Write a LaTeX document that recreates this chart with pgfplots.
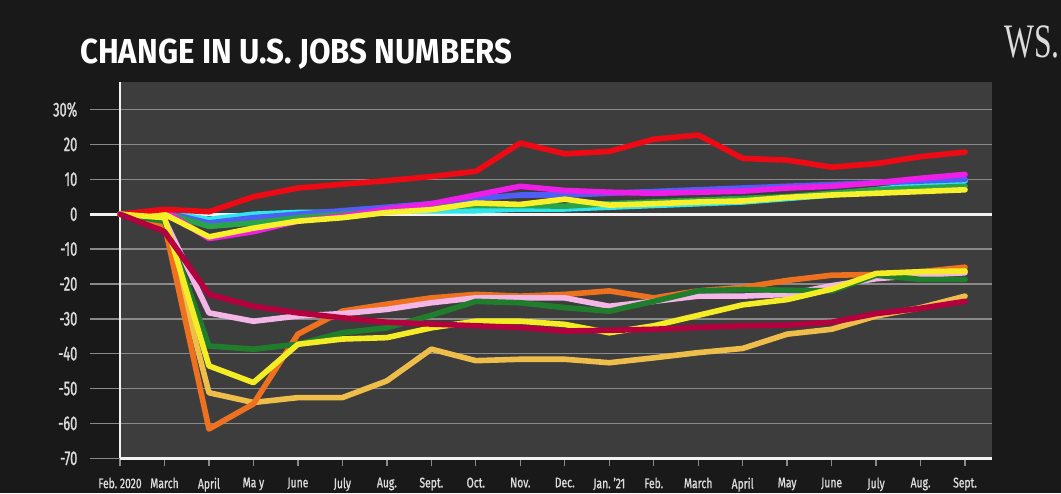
\documentclass[border=0pt]{standalone}
\usepackage{fontspec}
\setmainfont{Fira Sans}
\newfontfamily\ytickfont{Fira Sans}[FakeStretch=0.64, FakeBold=1.2]
\newfontfamily\xtickfont{Fira Sans}[FakeStretch=0.74, FakeBold=1]
\newfontfamily\titlefont{Fira Sans}[FakeStretch=0.9]
\newfontfamily\logofont{Liberation Serif}[FakeStretch=0.66]
\usepackage{pgfplots}
\pgfplotsset{compat=1.18}
\usepackage{pgfplotstable}

\definecolor{bgdark}{HTML}{191919}
\definecolor{panel}{HTML}{3D3D3D}
\definecolor{gridgray}{HTML}{8A8A8A}
\definecolor{axwhite}{HTML}{F2F2F2}
\definecolor{labelc}{HTML}{DCDCDC}
\definecolor{cRed}{HTML}{EE0A14}
\definecolor{cMagenta}{HTML}{EE1EE8}
\definecolor{cBlue}{HTML}{4F5FF5}
\definecolor{cCyan}{HTML}{2EE6EE}
\definecolor{cGreenUp}{HTML}{2AA34A}
\definecolor{cYellowUp}{HTML}{F7F02A}
\definecolor{cCrimson}{HTML}{B5003F}
\definecolor{cPink}{HTML}{F3B6E6}
\definecolor{cOrange}{HTML}{EE7120}
\definecolor{cDGreen}{HTML}{1F7D2C}
\definecolor{cYellowLo}{HTML}{F4EC24}
\definecolor{cGold}{HTML}{EEBD4A}

% month index 0 = Feb. 2020 ... 19 = Sept. 2021, values in % change
\pgfplotstableread{
m  red   magenta blue cyan greenup yellowup crimson pink  orange dgreen yellowlo gold
0  0     0       0    0    0       0        0       0     0      0      0        0
1  1.4   1.0     0.5  0.5  0.3     0        -5      -1.5  -3     -2     -1       -2
2  0.7   -7.0    -2.5 -1.5 -3.5    -6.5     -23     -28.3 -61.6  -37.8  -43.5    -51.2
3  5.0   -5.0    -1.0 0    -2.5    -4.0     -26.4   -30.7 -54.4  -38.7  -48.3    -54.0
4  7.5   -2.0    0    0.5  -1.0    -2.0     -28.3   -29.2 -34.4  -37.3  -37.3    -52.6
5  8.6   -0.5    1.0  0.5  0       -1.0     -29.7   -28.5 -27.8  -34.0  -35.8    -52.6
6  9.6   1.5     2.0  1.0  1.0     0.5      -31.0   -27.3 -25.8  -32.6  -35.4    -47.8
7  10.8  3.0     3.0  1.0  2.0     1.3      -31.5   -25.4 -24.0  -29.0  -32.6    -38.7
8  12.3  5.5     4.5  1.0  2.5     3.2      -32.0   -24.0 -23.0  -25.0  -30.7    -42.0
9  20.4  8.0     5.5  1.5  2.5     2.8      -32.5   -24.0 -23.5  -25.4  -30.7    -41.6
10 17.3  6.8     5.5  1.5  2.3     4.3      -33.5   -24.0 -23.0  -26.8  -31.6    -41.6
11 18.0  6.3     6.0  2.0  3.0     2.6      -33.3   -26.4 -22.0  -27.8  -34.0    -42.6
12 21.5  6.0     6.5  2.5  3.5     3.0      -33.0   -25.0 -24.0  -25.0  -32.0    -41.2
13 22.7  6.3     7.0  3.0  4.0     3.5      -32.5   -23.5 -22.0  -22.0  -29.0    -39.7
14 16.0  6.6     7.5  3.5  4.5     3.8      -32.0   -23.5 -21.0  -21.6  -26.0    -38.5
15 15.5  7.5     8.0  4.5  5.0     4.8      -31.8   -23.0 -19.0  -21.8  -24.5    -34.4
16 13.5  8.0     8.5  5.5  6.0     5.5      -31.0   -20.5 -17.5  -22.0  -21.5    -33.0
17 14.5  9.0     9.0  7.0  7.0     6.0      -28.5   -18.5 -17.3  -17.5  -17.0    -29.2
18 16.5  10.3    9.5  8.5  7.5     6.5      -27.0   -17.5 -16.5  -18.7  -16.5    -26.8
19 17.8  11.4    10.0 9.5  8.0     7.0      -25.0   -16.8 -15.2  -18.7  -16.3    -23.5
}\jobs

\begin{document}
\begin{tikzpicture}[x=0.75pt,y=0.75pt]
\fill[bgdark] (0,0) rectangle (1061,493);
\useasboundingbox (0,0) rectangle (1061,493);
% chart panel
\fill[panel] (120,34.7) rectangle (991.7,411);

\node[anchor=base west, inner sep=0pt, text=white,
      font=\titlefont\bfseries\fontsize{26}{26}\selectfont] at (80,429)
      {CHANGE IN U.S. JOBS NUMBERS};
\node[anchor=base east, inner sep=0pt, text=labelc,
      font=\logofont\fontsize{36}{36}\selectfont] at (1060,435) {WS.};

\begin{axis}[
    at={(67.5pt,26.03pt)}, anchor=south west,
    scale only axis, width=676.3pt, height=282.2pt,
    xmin=-0.675, xmax=19.6, ymin=-70, ymax=37.9,
    axis line style={draw=none},
    clip=false,
    xtick={0,...,19},
    xticklabels={Feb.\ 2020, March, April, Ma y, June, July, Aug., Sept., Oct., Nov., Dec., Jan.\ ’21, Feb., March, April, May, June, July, Aug., Sept.},
    ytick={-70,-60,...,30},
    yticklabels={-70,-60,-50,-40,-30,-20,-10,0,10,20,30\%},
    xtick pos=lower, ytick pos=left,
    tick align=outside,
    major tick length=6pt,
    xtick style={gridgray, line width=1pt},
    ytick style={draw=none},
    ymajorgrids,
    grid style={gridgray, line width=1.1pt},
    xticklabel style={font=\xtickfont\fontsize{10.5}{11}\selectfont, text=labelc, yshift=-5pt},
    yticklabel style={font=\ytickfont\fontsize{15}{15}\selectfont, text=labelc},
    every axis plot/.append style={line width=4.2pt, line join=round, line cap=round, no marks},
]
\draw[axwhite, line width=2.2pt] (axis cs:-0.675,0) -- (axis cs:19.6,0);
\draw[axwhite, line width=2pt] (axis cs:0,-70) -- (axis cs:0,37.9);
\draw[axwhite, line width=2pt] (axis cs:0,-70) -- (axis cs:19.6,-70);

\addplot[cCyan]     table[x=m, y=cyan]     {\jobs};
\addplot[cBlue]     table[x=m, y=blue]     {\jobs};
\addplot[cGreenUp]  table[x=m, y=greenup]  {\jobs};
\addplot[cMagenta]  table[x=m, y=magenta]  {\jobs};
\addplot[cYellowUp] table[x=m, y=yellowup] {\jobs};
\addplot[cRed]      table[x=m, y=red]      {\jobs};
\addplot[cGold]     table[x=m, y=gold]     {\jobs};
\addplot[cOrange]   table[x=m, y=orange]   {\jobs};
\addplot[cPink]     table[x=m, y=pink]     {\jobs};
\addplot[cDGreen]   table[x=m, y=dgreen]   {\jobs};
\addplot[cYellowLo] table[x=m, y=yellowlo] {\jobs};
\addplot[cCrimson]  table[x=m, y=crimson]  {\jobs};
\end{axis}
\end{tikzpicture}
\end{document}
